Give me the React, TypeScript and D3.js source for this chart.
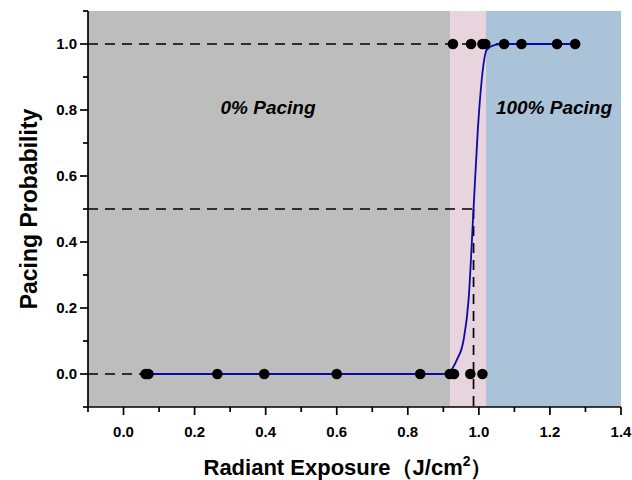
import React from "react";
import * as d3 from "d3";

const zeroX = [0.062, 0.07, 0.264, 0.396, 0.6, 0.835, 0.918, 0.93, 0.976, 1.01];
const oneX = [0.927, 0.978, 1.01, 1.018, 1.071, 1.12, 1.22, 1.271];
const curveX = [0.07, 0.9, 0.915, 0.938, 0.957, 0.971, 0.985, 0.997, 1.008, 1.022, 1.045, 1.065, 1.271];
const curveY = [0, 0, 0.005, 0.043, 0.103, 0.224, 0.5, 0.739, 0.891, 0.982, 0.997, 1.0, 1.0];
const regionBreaks = [-0.1, 0.92, 1.02, 1.4];
const regionColors = ["#bdbdbd", "#e8d4dd", "#abc3d8"];
const xTicks = [0, 0.2, 0.4, 0.6, 0.8, 1.0, 1.2, 1.4];
const xMinor = [-0.1, 0.1, 0.3, 0.5, 0.7, 0.9, 1.1, 1.3];
const yTicks = [0, 0.2, 0.4, 0.6, 0.8, 1.0];
const yMinor = [-0.1, 0.1, 0.3, 0.5, 0.7, 0.9, 1.1];
const threshold = 0.985;

export default function App() {
  const W = 632, H = 480;
  const x = d3.scaleLinear().domain([-0.1, 1.4]).range([88, 621]);
  const y = d3.scaleLinear().domain([-0.1, 1.1]).range([407, 11]);
  const line = d3
    .line<number>()
    .x((_, i) => x(curveX[i]))
    .y((d) => y(d))
    .curve(d3.curveMonotoneX);
  const font = "'Liberation Sans', Arial, sans-serif";
  const dash = "10,7";
  return (
    <svg width={W} height={H} style={{ position: "absolute", left: 0, top: 0, background: "#fff" }}>
      {regionColors.map((c, i) => (
        <rect
          key={i}
          x={x(regionBreaks[i])}
          y={y(1.1)}
          width={x(regionBreaks[i + 1]) - x(regionBreaks[i])}
          height={y(-0.1) - y(1.1)}
          fill={c}
        />
      ))}
      <g stroke="#000" strokeWidth={1.7} strokeDasharray={dash} fill="none">
        <line x1={x(-0.1)} x2={x(zeroX[0])} y1={y(0)} y2={y(0)} />
        <line x1={x(-0.1)} x2={x(1.07)} y1={y(1)} y2={y(1)} />
        <line x1={x(-0.1)} x2={x(threshold)} y1={y(0.5)} y2={y(0.5)} />
        <line x1={x(threshold)} x2={x(threshold)} y1={y(0.5)} y2={y(-0.1)} />
      </g>
      <path d={line(curveY) || ""} fill="none" stroke="#0a0aa8" strokeWidth={1.8} />
      <g fill="#000">
        {zeroX.map((v, i) => (
          <circle key={"z" + i} cx={x(v)} cy={y(0)} r={5.3} />
        ))}
        {oneX.map((v, i) => (
          <circle key={"o" + i} cx={x(v)} cy={y(1)} r={5.3} />
        ))}
      </g>
      <g stroke="#000" strokeWidth={1.7}>
        <line x1={x(-0.1)} x2={x(-0.1)} y1={y(1.1)} y2={y(-0.1)} />
        <line x1={x(-0.1)} x2={x(1.4)} y1={y(-0.1)} y2={y(-0.1)} />
        {xTicks.map((t) => (
          <line key={"xt" + t} x1={x(t)} x2={x(t)} y1={y(-0.1)} y2={y(-0.1) + 8} />
        ))}
        {xMinor.map((t) => (
          <line key={"xm" + t} x1={x(t)} x2={x(t)} y1={y(-0.1)} y2={y(-0.1) + 5} />
        ))}
        {yTicks.map((t) => (
          <line key={"yt" + t} x1={x(-0.1) - 8} x2={x(-0.1)} y1={y(t)} y2={y(t)} />
        ))}
        {yMinor.map((t) => (
          <line key={"ym" + t} x1={x(-0.1) - 5} x2={x(-0.1)} y1={y(t)} y2={y(t)} />
        ))}
      </g>
      <g fontFamily={font} fontWeight="bold" fontSize={15} fill="#000">
        {xTicks.map((t) => (
          <text key={"xl" + t} x={x(t)} y={y(-0.1) + 30} textAnchor="middle">
            {d3.format(".1f")(t)}
          </text>
        ))}
        {yTicks.map((t) => (
          <text key={"yl" + t} x={x(-0.1) - 11} y={y(t) + 5} textAnchor="end">
            {d3.format(".1f")(t)}
          </text>
        ))}
      </g>
      <g fontFamily={font} fontWeight="bold" fontStyle="italic" fontSize={19} fill="#000">
        <text x={268} y={114} textAnchor="middle">0% Pacing</text>
        <text x={554} y={114} textAnchor="middle">100% Pacing</text>
      </g>
      <text
        transform="translate(37,209) rotate(-90)"
        textAnchor="middle"
        fontFamily={font}
        fontWeight="bold"
        fontSize={23}
      >
        Pacing Probability
      </text>
      <text x={348} y={475} textAnchor="middle" fontFamily={font} fontWeight="bold" fontSize={22}>
        Radiant Exposure（J/cm
        <tspan dy={-9} fontSize={14}>2</tspan>
        <tspan dy={9}>）</tspan>
      </text>
    </svg>
  );
}
